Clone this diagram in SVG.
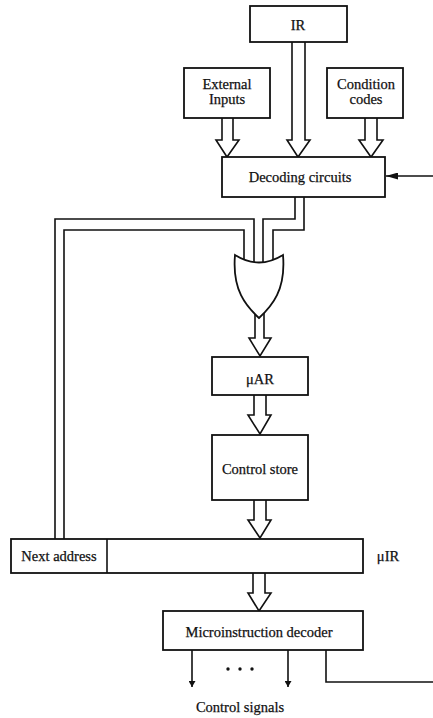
<svg xmlns="http://www.w3.org/2000/svg" width="433" height="718" viewBox="0 0 433 718">
<defs>
<marker id="ah" viewBox="0 0 10 10" refX="10" refY="5" markerWidth="6" markerHeight="7" markerUnits="userSpaceOnUse" orient="auto" preserveAspectRatio="none"><path d="M0,0 L10,5 L0,10 Z" fill="#111"/></marker>
<marker id="ah2" viewBox="0 0 10 10" refX="10" refY="5" markerWidth="12" markerHeight="7" markerUnits="userSpaceOnUse" orient="auto" preserveAspectRatio="none"><path d="M0,0 L10,5 L0,10 Z" fill="#111"/></marker>
</defs>
<style>
.box{fill:#fff;stroke:#111;stroke-width:1.8}
.ln{fill:none;stroke:#111;stroke-width:1.6}
.bus{fill:#fff;stroke:#111;stroke-width:1.6;stroke-linejoin:miter}
text{font-family:"Liberation Serif","Times New Roman",serif;font-size:14.5px;fill:#111;stroke:#111;stroke-width:0.25;text-anchor:middle}
</style>
<rect width="433" height="718" fill="#fff"/>
<g id="connectors">
<path class="bus" d="M222,118 V140 H216 L227,157 L239,140 H233 V118"/>
<path class="bus" d="M292,42 V140 H287 L298,157 L310,140 H305 V42"/>
<path class="bus" d="M365,118 V140 H359 L371,157 L383,140 H377 V118"/>
<path class="ln" d="M55,539 V219 H254 V262"/>
<path class="ln" d="M64,539 V230 H244 V262"/>
<path class="ln" d="M295,197 V219 H263 V262"/>
<path class="ln" d="M304,197 V230 H273 V262"/>
<path class="bus" d="M255,305 V338 H249 L260,356 L271,338 H264 V305"/>
<path class="bus" d="M254,395 V415 H248 L260,434 L271,415 H266 V395"/>
<path class="bus" d="M254,500 V520 H248 L260,538 L271,520 H266 V500"/>
<path class="bus" d="M253,573 V593 H248 L259,611 L271,593 H265 V573"/>
<path class="ln" d="M433,176 H386" marker-end="url(#ah2)"/>
<path class="ln" d="M326,650 V682 H433"/>
<path class="ln" d="M192,650 V687" marker-end="url(#ah)"/>
<path class="ln" d="M288,650 V687" marker-end="url(#ah)"/>
</g>
<g id="ir"><rect class="box" x="250" y="6" width="97" height="36"/><text x="298" y="30">IR</text></g>
<g id="external-inputs"><rect class="box" x="184" y="68" width="86" height="50"/><text x="227" y="89">External</text><text x="227" y="104">Inputs</text></g>
<g id="condition-codes"><rect class="box" x="327" y="68" width="76" height="50"/><text x="366" y="89">Condition</text><text x="366" y="104">codes</text></g>
<g id="decoding-circuits"><rect class="box" x="222" y="157" width="163" height="40"/><text x="300" y="182">Decoding circuits</text></g>
<g id="or-gate"><path class="box" d="M235,255 Q259,270 283,255 C286,290 272,306 259,318 C246,306 232,290 235,255 Z"/></g>
<g id="uar"><rect class="box" x="212" y="357" width="96" height="38"/><text x="260" y="384">μAR</text></g>
<g id="control-store"><rect class="box" x="212" y="435" width="96" height="65"/><text x="260" y="474">Control store</text></g>
<g id="uir"><rect class="box" x="11" y="539" width="352" height="34"/><line class="ln" x1="107" y1="539" x2="107" y2="573"/><text x="59" y="561">Next address</text><text x="388" y="561">μIR</text></g>
<g id="microinstruction-decoder"><rect class="box" x="163" y="611" width="200" height="39"/><text x="259" y="637">Microinstruction decoder</text></g>
<g id="control-signals"><circle cx="228" cy="669" r="1.7" fill="#111"/><circle cx="240" cy="669" r="1.7" fill="#111"/><circle cx="252" cy="669" r="1.7" fill="#111"/><text x="240" y="712">Control signals</text></g>
</svg>
